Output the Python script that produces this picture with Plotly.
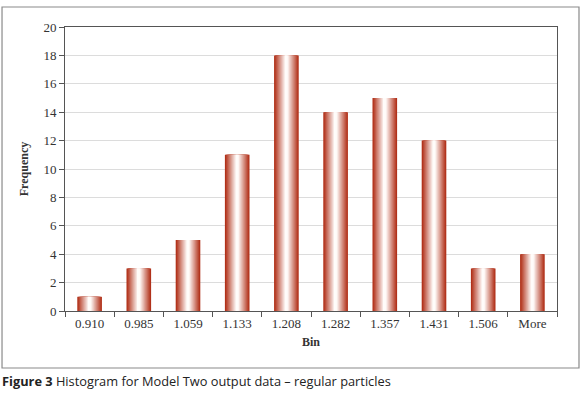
import plotly.graph_objects as go

bins = ["0.910", "0.985", "1.059", "1.133", "1.208", "1.282", "1.357", "1.431", "1.506", "More"]
frequency = [1, 3, 5, 11, 18, 14, 15, 12, 3, 4]
y_ticks = list(range(0, 21, 2))

dark = (176, 46, 22)
light = (255, 252, 250)

def mix(t):
    c = [round(light[i] + (dark[i] - light[i]) * t) for i in range(3)]
    return f"rgb({c[0]},{c[1]},{c[2]})"

fig = go.Figure()
n_layers = 14
full_w = 0.5
for k in range(n_layers):
    frac = 1 - k / n_layers  # 1 at edge, small at center
    w = full_w * frac
    t = max(0.0, (frac - 0.12) / 0.88) ** 1.0
    fig.add_trace(go.Bar(
        x=bins, y=frequency, width=w,
        marker=dict(color=mix(t), line=dict(width=0)),
        showlegend=False, hoverinfo="skip",
    ))

serif = "Liberation Serif"
fig.update_layout(
    barmode="overlay",
    width=580, height=395,
    margin=dict(l=65, r=23, t=27, b=84),
    paper_bgcolor="white", plot_bgcolor="white",
    font=dict(family=serif, size=13, color="#333"),
    xaxis=dict(
        type="category",
        showline=True, linecolor="#555", linewidth=1, mirror=True,
        ticks="outside", tickson="boundaries", ticklen=5, tickcolor="#555",
        tickfont=dict(family=serif, size=13, color="#333"),
        title=dict(text="<b>Bin</b>", font=dict(family=serif, size=12, color="#333"), standoff=8),
        showgrid=False,
    ),
    yaxis=dict(
        range=[0, 20], tickvals=y_ticks,
        showline=True, linecolor="#555", linewidth=1, mirror=True,
        ticks="outside", ticklen=5, tickcolor="#555",
        tickfont=dict(family=serif, size=13, color="#333"),
        gridcolor="#dcdcdc", gridwidth=1,
        title=dict(text="<b>Frequency</b>", font=dict(family=serif, size=12, color="#333"), standoff=12),
        zeroline=False,
    ),
)

# outer frame
fig.add_shape(type="rect", xref="paper", yref="paper",
              x0=-0.128, x1=1.0447, y0=-0.2007, y1=1.0704,
              line=dict(color="#8a8a8a", width=1.2), fillcolor="rgba(0,0,0,0)", layer="below")

fig.add_annotation(
    xref="paper", yref="paper", x=-0.132, y=-0.246, xanchor="left", yanchor="middle",
    showarrow=False,
    text="<b>Figure 3</b> Histogram for Model Two output data – regular particles",
    font=dict(family="Open Sans", size=12.8, color="#222"),
)

fig.write_html("out.html", config={"displayModeBar": False},
               post_script="document.body.style.margin='0px';")
